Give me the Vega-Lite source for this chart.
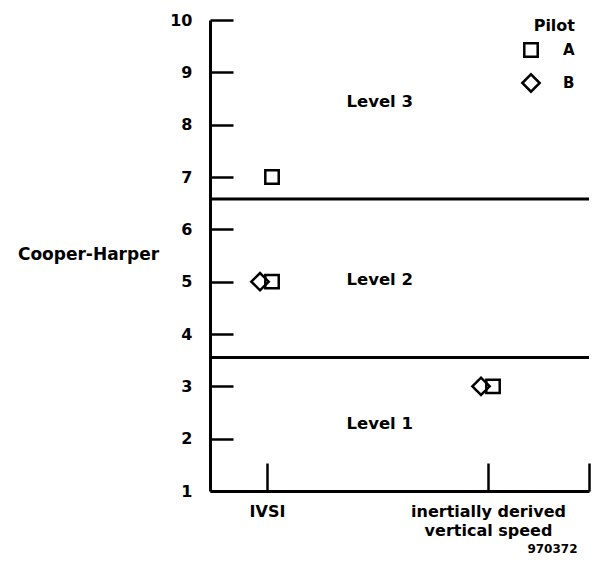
{
  "$schema": "https://vega.github.io/schema/vega-lite/v6.json",
  "width": 379,
  "height": 471,
  "autosize": "none",
  "padding": {"left": 210, "top": 20, "right": 8, "bottom": 75},
  "background": "white",
  "config": {
    "view": {"stroke": null},
    "font": "DejaVu Sans",
    "axis": {
      "grid": false,
      "domainColor": "black",
      "domainWidth": 3,
      "tickColor": "black",
      "tickWidth": 2.5,
      "labelColor": "black",
      "labelFont": "DejaVu Sans",
      "labelFontWeight": "bold",
      "labelFontSize": 16,
      "titleColor": "black",
      "titleFont": "DejaVu Sans",
      "titleFontWeight": "bold"
    },
    "legend": {
      "titleFont": "DejaVu Sans",
      "labelFont": "DejaVu Sans"
    }
  },
  "layer": [
    {
      "data": {"values": [{"boundary": 6.58}, {"boundary": 3.55}]},
      "mark": {"type": "rule", "color": "black", "strokeWidth": 3},
      "encoding": {
        "y": {"field": "boundary", "type": "quantitative", "scale": {"domain": [1, 10], "nice": false, "zero": false}}
      }
    },
    {
      "data": {"values": [
        {"label": "Level 3", "xpos": 1.51, "rating": 8.44},
        {"label": "Level 2", "xpos": 1.51, "rating": 5.03},
        {"label": "Level 1", "xpos": 1.51, "rating": 2.28}
      ]},
      "mark": {"type": "text", "font": "DejaVu Sans", "fontWeight": "bold", "fontSize": 16.5, "color": "black", "align": "center", "baseline": "middle"},
      "encoding": {
        "x": {"field": "xpos", "type": "quantitative"},
        "y": {"field": "rating", "type": "quantitative"},
        "text": {"field": "label"}
      }
    },
    {
      "data": {"values": [
        {"Display": "IVSI", "display_index": 1, "Pilot": "A", "rating": 7},
        {"Display": "IVSI", "display_index": 1, "Pilot": "A", "rating": 5},
        {"Display": "IVSI", "display_index": 1, "Pilot": "B", "rating": 5},
        {"Display": "Inertially derived vertical speed", "display_index": 2, "Pilot": "A", "rating": 3},
        {"Display": "Inertially derived vertical speed", "display_index": 2, "Pilot": "B", "rating": 3}
      ]},
      "layer": [
        {
          "transform": [{"filter": "datum.Pilot == 'B'"}],
          "mark": {"type": "point", "filled": false, "stroke": "black", "strokeWidth": 2.5, "opacity": 1, "xOffset": -7}
        },
        {
          "transform": [{"filter": "datum.Pilot == 'A'"}],
          "mark": {"type": "point", "filled": false, "stroke": "black", "strokeWidth": 2.5, "opacity": 1, "xOffset": 5}
        }
      ],
      "encoding": {
        "x": {
          "field": "display_index",
          "type": "quantitative",
          "scale": {"domain": [0.742, 2.457], "nice": false, "zero": false},
          "axis": {
            "values": [1, 2, 2.457],
            "labelExpr": "datum.value == 1 ? 'IVSI' : (datum.value == 2 ? ['inertially derived', 'vertical speed'] : '')",
            "tickSize": -28,
            "labelPadding": 40,
            "labelBaseline": "top",
            "labelLineHeight": 19,
            "labelFlush": false,
            "labelOverlap": false,
            "labelBound": false,
            "title": "970372",
            "titleFontSize": 12,
            "titleAlign": "right",
            "titleBaseline": "middle",
            "titleX": 367,
            "titleY": 57
          }
        },
        "y": {
          "field": "rating",
          "type": "quantitative",
          "scale": {"domain": [1, 10], "nice": false, "zero": false},
          "axis": {
            "values": [1, 2, 3, 4, 5, 6, 7, 8, 9, 10],
            "tickSize": -23,
            "labelPadding": 41,
            "title": "Cooper-Harper",
            "titleAngle": 0,
            "titleFontSize": 17,
            "titleAlign": "center",
            "titleBaseline": "middle",
            "titleX": -122,
            "titleY": 234
          }
        },
        "shape": {
          "field": "Pilot",
          "type": "nominal",
          "scale": {"domain": ["A", "B"], "range": ["square", "diamond"]},
          "legend": {
            "orient": "none",
            "legendX": 311,
            "legendY": -2,
            "title": "Pilot",
            "titleFontSize": 16,
            "titleFontWeight": "bold",
            "titleColor": "black",
            "titleAnchor": "end",
            "titlePadding": 8,
            "labelFontSize": 15,
            "labelFontWeight": "bold",
            "labelColor": "black",
            "labelOffset": 22,
            "rowPadding": 7,
            "symbolStrokeColor": "black",
            "symbolStrokeWidth": 2.5,
            "symbolFillColor": "transparent"
          }
        },
        "size": {
          "field": "Pilot",
          "type": "nominal",
          "scale": {"domain": ["A", "B"], "range": [180, 300]}
        }
      }
    }
  ]
}
